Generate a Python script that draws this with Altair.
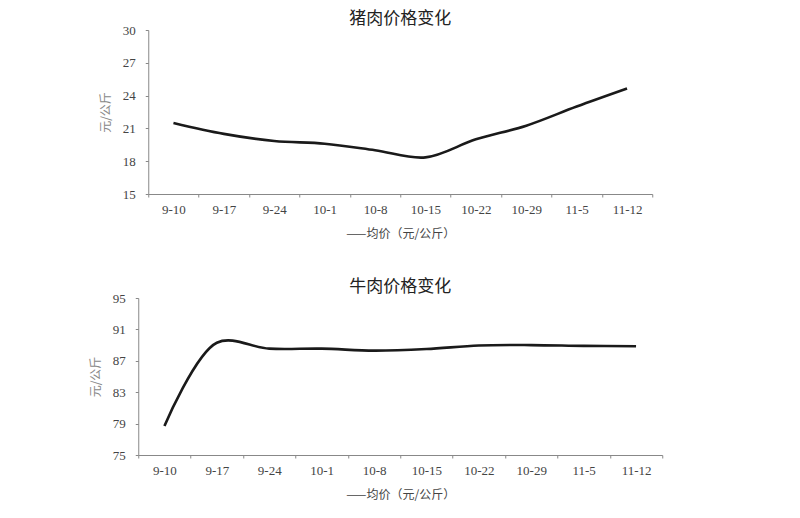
import altair as alt
import pandas as pd

dates = ["9-10", "9-17", "9-24", "10-1", "10-8", "10-15", "10-22", "10-29", "11-5", "11-12"]
pork = [21.5, 20.5, 19.85, 19.6, 19.0, 18.35, 20.0, 21.25, 23.0, 24.65]
beef = [78.7, 89.3, 88.55, 88.55, 88.3, 88.5, 88.95, 89.0, 88.9, 88.85]

pork_df = pd.DataFrame({"date": dates, "price": pork})
beef_df = pd.DataFrame({"date": dates, "price": beef})

SERIF = "Liberation Serif"
CJK = "Noto Sans CJK SC"
X_TITLE = "——均价（元/公斤）"


def panel(df, title, lo, hi, step, w, h):
    return alt.Chart(df, title=alt.TitleParams(
        title, fontSize=17, font=CJK, fontWeight="normal",
        color="#222", offset=-4, anchor="middle")).mark_line(
        interpolate="catmull-rom", color="#1a1a1a", strokeWidth=2.6
    ).encode(
        x=alt.X("date:N", sort=dates, title=X_TITLE,
                scale=alt.Scale(paddingInner=0, paddingOuter=0),
                axis=alt.Axis(labelAngle=0, tickBand="extent", domainColor="#888",
                              tickColor="#888", tickSize=3, labelPadding=6,
                              labelFont=SERIF, labelFontSize=13, labelColor="#444",
                              titleFont=CJK, titleFontSize=12,
                              titleFontWeight="normal", titleColor="#444",
                              titlePadding=12)),
        y=alt.Y("price:Q", title="元/公斤",
                scale=alt.Scale(domain=[lo, hi], nice=False, zero=False),
                axis=alt.Axis(values=list(range(lo, hi + 1, step)), grid=False,
                              domainColor="#888", tickColor="#888", tickSize=3,
                              labelPadding=10, labelFont=SERIF, labelFontSize=13,
                              labelColor="#444", titleFont=CJK,
                              titleFontSize=12, titleFontWeight="normal",
                              titleColor="#888", titlePadding=10)),
    ).properties(width=w, height=h)


top = panel(pork_df, "猪肉价格变化", 15, 30, 3, 504, 164)
bottom = panel(beef_df, "牛肉价格变化", 75, 95, 4, 524, 157)

chart = alt.vconcat(top, bottom, spacing=39, center=True).configure(
    background="white"
).configure_view(stroke=None).properties(
    padding={"left": 81, "top": 2, "right": 5, "bottom": 5})

chart.save("out.html", embed_options={"renderer": "svg", "actions": False})
